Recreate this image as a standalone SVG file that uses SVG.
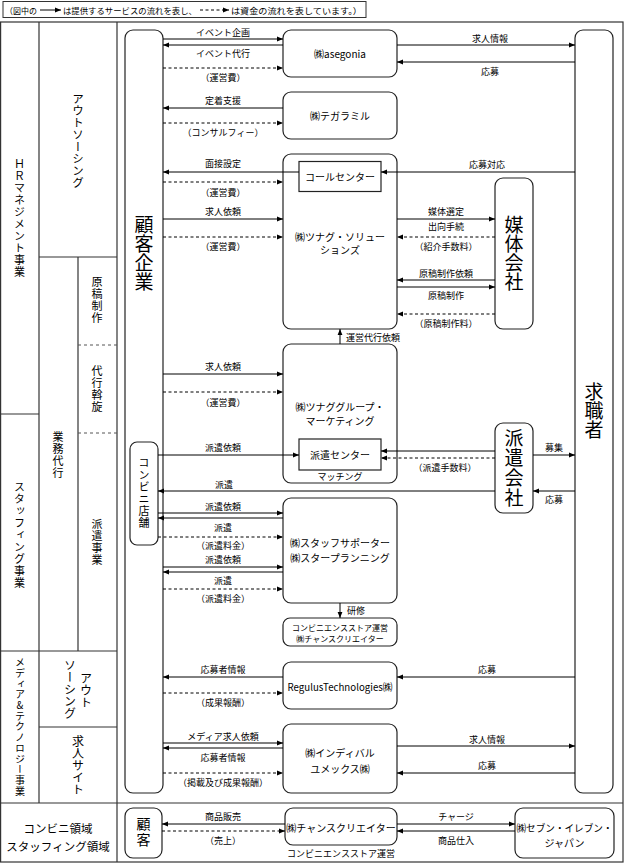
<svg xmlns="http://www.w3.org/2000/svg" width="624" height="865" viewBox="0 0 624 865">
<style>
.fr{fill:none;stroke:#333;stroke-width:1.2}
.fd{fill:none;stroke:#555;stroke-width:1;stroke-dasharray:3 3}
.nd{fill:#fff;stroke:#222;stroke-width:1.2}
.c{fill:none;stroke:#000;stroke-width:1;marker-end:url(#ah)}
.d{stroke-dasharray:3 2.5}
text{font-family:"Noto Sans CJK JP","Noto Sans",sans-serif;fill:#000}
.t{font-size:9px;text-anchor:middle;dominant-baseline:central}
.n{font-size:10px;text-anchor:middle;dominant-baseline:central}
.s{font-size:8px;text-anchor:middle;dominant-baseline:central}
.lg{font-size:8.5px;dominant-baseline:central}
.v{writing-mode:vertical-rl;text-orientation:upright;text-anchor:middle}
</style>
<defs>
<marker id="ah" viewBox="0 0 6 6" refX="6" refY="3" markerWidth="6" markerHeight="6" markerUnits="userSpaceOnUse" orient="auto"><path d="M0,0.6 L6,3 L0,5.4 z" fill="#000"/></marker>
</defs>
<rect width="624" height="865" fill="#fff"/>

<g id="legend">
<rect x="3" y="1.5" width="363" height="16" fill="none" stroke="#333" stroke-width="1"/>
<text class="lg" x="5" y="10" textLength="32" lengthAdjust="spacingAndGlyphs">（図中の</text>
<line x1="40" y1="10" x2="61" y2="10" class="c"/>
<text class="lg" x="63" y="10" textLength="134" lengthAdjust="spacingAndGlyphs">は提供するサービスの流れを表し、</text>
<line x1="200" y1="10" x2="229" y2="10" class="c d"/>
<text class="lg" x="231" y="10" textLength="131" lengthAdjust="spacingAndGlyphs">は資金の流れを表しています。）</text>
</g>

<g id="frame">
<rect x="0.6" y="22" width="622.4" height="840" class="fr"/>
<line x1="117" y1="22" x2="117" y2="862" class="fr"/>
<line x1="39" y1="22" x2="39" y2="803" class="fr"/>
<line x1="78" y1="257" x2="78" y2="651" class="fr"/>
<line x1="39" y1="257" x2="117" y2="257" class="fr"/>
<line x1="0" y1="414" x2="39" y2="414" class="fr"/>
<line x1="78" y1="345" x2="117" y2="345" class="fd"/>
<line x1="78" y1="433" x2="117" y2="433" class="fd"/>
<line x1="0" y1="651" x2="117" y2="651" class="fr"/>
<line x1="39" y1="727" x2="117" y2="727" class="fr"/>
<line x1="0" y1="803" x2="623" y2="803" class="fr"/>
<text class="v" x="19.5" y="218" style="font-size:11px;letter-spacing:1px">ＨＲマネジメント事業</text>
<text class="v" x="78" y="141" style="font-size:11.5px;letter-spacing:0.5px">アウトソーシング</text>
<text class="v" x="97" y="300" style="font-size:11px;letter-spacing:1px">原稿制作</text>
<text class="v" x="97" y="389" style="font-size:11px;letter-spacing:1px">代行斡旋</text>
<text class="v" x="58" y="455" style="font-size:11px;letter-spacing:1px">業務代行</text>
<text class="v" x="19.5" y="535" style="font-size:11px;letter-spacing:1px">スタッフィング事業</text>
<text class="v" x="97" y="542" style="font-size:11px;letter-spacing:1px">派遣事業</text>
<text class="v" x="20" y="727" style="font-size:10px;letter-spacing:0.7px">メディア&amp;テクノロジー事業</text>
<text class="v" x="86" y="690" style="font-size:12px">アウト</text>
<text class="v" x="70" y="689" style="font-size:12px">ソーシング</text>
<text class="v" x="78" y="765" style="font-size:12px">求人サイト</text>
<text x="58" y="828" style="font-size:11.5px;text-anchor:middle;dominant-baseline:central">コンビニ領域</text>
<text x="58" y="846" style="font-size:11.5px;text-anchor:middle;dominant-baseline:central">スタッフィング領域</text>
</g>

<g id="client">
<rect x="125" y="30" width="38" height="763" rx="8" class="nd"/>
<text class="v" x="144" y="253" style="font-size:19px">顧客企業</text>
</g>
<g id="jobseeker">
<rect x="575" y="30" width="38" height="763" rx="8" class="nd"/>
<text class="v" x="594" y="411" style="font-size:19px">求職者</text>
</g>
<g id="conveni">
<rect x="130" y="442" width="28" height="103" rx="7" class="nd"/>
<text class="v" x="144" y="493" style="font-size:11px;letter-spacing:1px">コンビニ店舗</text>
</g>
<g id="asegonia">
<rect x="283" y="30" width="114" height="47" rx="8" class="nd"/>
<text class="n" x="340" y="53.5">㈱asegonia</text>
</g>
<g id="tegaramil">
<rect x="283" y="92" width="114" height="47" rx="8" class="nd"/>
<text class="n" x="340" y="115.5">㈱テガラミル</text>
</g>
<g id="tsunagu-sol">
<rect x="283" y="154" width="114" height="175" rx="8" class="nd"/>
<rect x="299" y="161.5" width="82" height="30" fill="#fff" stroke="#222" stroke-width="1.2"/>
<text class="n" x="340" y="176.5">コールセンター</text>
<text class="n" x="340" y="236">㈱ツナグ・ソリュー</text>
<text class="n" x="340" y="249.5">ションズ</text>
</g>
<g id="media">
<rect x="495" y="178" width="38" height="151" rx="8" class="nd"/>
<text class="v" x="514" y="253.5" style="font-size:19px">媒体会社</text>
</g>
<g id="tsunagu-mkt">
<rect x="283" y="344" width="114" height="139" rx="8" class="nd"/>
<text class="n" x="340" y="406">㈱ツナググループ・</text>
<text class="n" x="340" y="420">マーケティング</text>
<rect x="299" y="439" width="82" height="31" fill="#fff" stroke="#222" stroke-width="1.2"/>
<text class="n" x="340" y="454.5">派遣センター</text>
<text class="t" x="340" y="476">マッチング</text>
</g>
<g id="haken">
<rect x="495" y="423" width="38" height="90" rx="8" class="nd"/>
<text class="v" x="514" y="468" style="font-size:19px;letter-spacing:1px">派遣会社</text>
</g>
<g id="staff">
<rect x="283" y="498" width="114" height="105" rx="8" class="nd"/>
<text class="n" x="340" y="542.5">㈱スタッフサポーター</text>
<text class="n" x="340" y="557">㈱スタープランニング</text>
</g>
<g id="chance1">
<rect x="283" y="618" width="114" height="28" rx="7" class="nd"/>
<text class="s" x="340" y="627">コンビニエンスストア運営</text>
<text class="s" x="340" y="638.5">㈱チャンスクリエイター</text>
</g>
<g id="regulus">
<rect x="283" y="662" width="114" height="47" rx="8" class="nd"/>
<text class="n" x="340" y="686.5" textLength="105" lengthAdjust="spacingAndGlyphs">RegulusTechnologies㈱</text>
</g>
<g id="individual">
<rect x="283" y="724" width="114" height="69" rx="8" class="nd"/>
<text class="n" x="340" y="752.5">㈱インディバル</text>
<text class="n" x="340" y="768">ユメックス㈱</text>
</g>
<g id="kokyaku">
<rect x="125" y="808" width="37" height="50" rx="8" class="nd"/>
<text class="v" x="143.5" y="833" style="font-size:14px;letter-spacing:2px">顧客</text>
</g>
<g id="chance2">
<rect x="285" y="808" width="112" height="37" rx="8" class="nd"/>
<text class="n" x="341" y="827">㈱チャンスクリエイター</text>
</g>
<g id="seven">
<rect x="515" y="808" width="99" height="50" rx="8" class="nd"/>
<text class="n" x="564.5" y="827" textLength="96" lengthAdjust="spacingAndGlyphs">㈱セブン・イレブン・</text>
<text class="n" x="564.5" y="842">ジャパン</text>
</g>

<g id="connectors">
<line x1="163" y1="39" x2="283" y2="39" class="c"/><text class="t" x="223" y="32">イベント企画</text>
<line x1="283" y1="45" x2="163" y2="45" class="c"/><text class="t" x="223" y="53">イベント代行</text>
<line x1="163" y1="68" x2="283" y2="68" class="c d"/><text class="t" x="223" y="77">（運営費）</text>
<line x1="283" y1="108" x2="163" y2="108" class="c"/><text class="t" x="223" y="100">定着支援</text>
<line x1="163" y1="123" x2="283" y2="123" class="c d"/><text class="t" x="223" y="132">（コンサルフィー）</text>
<line x1="299" y1="172" x2="163" y2="172" class="c"/><text class="t" x="223" y="163">面接設定</text>
<line x1="163" y1="182" x2="283" y2="182" class="c d"/><text class="t" x="223" y="192">（運営費）</text>
<line x1="163" y1="219" x2="283" y2="219" class="c"/><text class="t" x="223" y="211">求人依頼</text>
<line x1="163" y1="237" x2="283" y2="237" class="c d"/><text class="t" x="223" y="246">（運営費）</text>
<line x1="163" y1="374" x2="283" y2="374" class="c"/><text class="t" x="223" y="366">求人依頼</text>
<line x1="163" y1="392" x2="283" y2="392" class="c d"/><text class="t" x="223" y="402">（運営費）</text>
<line x1="158" y1="455" x2="299" y2="455" class="c"/><text class="t" x="223" y="447">派遣依頼</text>
<line x1="495" y1="491" x2="158" y2="491" class="c"/><text class="t" x="224" y="484">派遣</text>
<line x1="158" y1="513" x2="283" y2="513" class="c"/><text class="t" x="223" y="506">派遣依頼</text>
<line x1="283" y1="518" x2="158" y2="518" class="c"/><text class="t" x="223" y="527">派遣</text>
<line x1="158" y1="537" x2="283" y2="537" class="c d"/><text class="t" x="223" y="545">（派遣料金）</text>
<line x1="163" y1="567" x2="283" y2="567" class="c"/><text class="t" x="223" y="559">派遣依頼</text>
<line x1="283" y1="572" x2="163" y2="572" class="c"/><text class="t" x="223" y="580">派遣</text>
<line x1="163" y1="589" x2="283" y2="589" class="c d"/><text class="t" x="223" y="598">（派遣料金）</text>
<line x1="283" y1="677" x2="163" y2="677" class="c"/><text class="t" x="223" y="669">応募者情報</text>
<line x1="163" y1="693" x2="283" y2="693" class="c d"/><text class="t" x="223" y="702">（成果報酬）</text>
<line x1="163" y1="743" x2="283" y2="743" class="c"/><text class="t" x="223" y="736">メディア求人依頼</text>
<line x1="283" y1="748" x2="163" y2="748" class="c"/><text class="t" x="223" y="757">応募者情報</text>
<line x1="163" y1="773" x2="283" y2="773" class="c d"/><text class="t" x="223" y="782">（掲載及び成果報酬）</text>

<line x1="397" y1="45" x2="575" y2="45" class="c"/><text class="t" x="490" y="38">求人情報</text>
<line x1="575" y1="62" x2="397" y2="62" class="c"/><text class="t" x="490" y="71">応募</text>
<line x1="575" y1="172" x2="381" y2="172" class="c"/><text class="t" x="487" y="164">応募対応</text>
<line x1="575" y1="677" x2="397" y2="677" class="c"/><text class="t" x="487" y="669">応募</text>
<line x1="397" y1="746" x2="575" y2="746" class="c"/><text class="t" x="487" y="739">求人情報</text>
<line x1="575" y1="773" x2="397" y2="773" class="c"/><text class="t" x="487" y="765">応募</text>

<line x1="397" y1="219" x2="495" y2="219" class="c"/><text class="t" x="446" y="211">媒体選定</text><text class="t" x="446" y="226">出向手続</text>
<line x1="495" y1="237" x2="397" y2="237" class="c d"/><text class="t" x="446" y="246">（紹介手数料）</text>
<line x1="495" y1="280" x2="397" y2="280" class="c"/><text class="t" x="446" y="273">原稿制作依頼</text>
<line x1="397" y1="287" x2="495" y2="287" class="c"/><text class="t" x="446" y="295">原稿制作</text>
<line x1="495" y1="314" x2="397" y2="314" class="c d"/><text class="t" x="446" y="323">（原稿制作料）</text>
<line x1="495" y1="451" x2="381" y2="451" class="c"/>
<line x1="495" y1="458" x2="381" y2="458" class="c d"/><text class="t" x="445" y="467">（派遣手数料）</text>
<line x1="533" y1="455" x2="575" y2="455" class="c"/><text class="t" x="554" y="447">募集</text>
<line x1="575" y1="491" x2="533" y2="491" class="c"/><text class="t" x="554" y="499">応募</text>

<line x1="340" y1="344" x2="340" y2="329" class="c"/><text x="346" y="337" style="font-size:9px;dominant-baseline:central">運営代行依頼</text>
<line x1="340" y1="603" x2="340" y2="618" class="c"/><text x="347" y="610" style="font-size:9px;dominant-baseline:central">研修</text>

<line x1="285" y1="824" x2="162" y2="824" class="c"/><text class="t" x="223" y="816">商品販売</text>
<line x1="162" y1="831" x2="285" y2="831" class="c d"/><text class="t" x="223" y="840">（売上）</text>
<line x1="397" y1="824" x2="515" y2="824" class="c"/><text class="t" x="456" y="816">チャージ</text>
<line x1="515" y1="831" x2="397" y2="831" class="c"/><text class="t" x="456" y="840">商品仕入</text>
<text class="t" x="341" y="853">コンビニエンスストア運営</text>
</g>
</svg>
